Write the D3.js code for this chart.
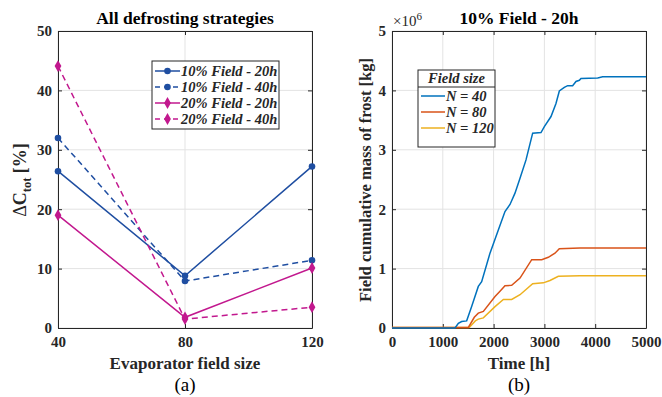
<!DOCTYPE html>
<html>
<head>
<meta charset="utf-8">
<script src="https://cdn.jsdelivr.net/npm/d3@7"></script>
<style>
  body { margin: 0; background: #fff; }
  svg { display: block; font-family: "Liberation Serif", "Times New Roman", serif; }
</style>
</head>
<body>
<div id="chart"></div>
<script>
"use strict";

/* ── Data: panel (a) ── */
const fieldSizes = [40, 80, 120];
const stratNames = ["10% Field - 20h", "10% Field - 40h", "20% Field - 20h", "20% Field - 40h"];
const s10_20 = [26.4, 8.8, 27.2];
const s10_40 = [32.0, 7.9, 11.4];
const s20_20 = [19.0, 1.8, 10.1];
const s20_40 = [44.1, 1.5, 3.5];

/* ── Data: panel (b), mass of frost in 1e6 kg ── */
const sizeNames = ["N = 40", "N = 80", "N = 120"];
const t40 = [0, 1240, 1306, 1371, 1470, 1568, 1699, 1765, 1929, 2093, 2224, 2323, 2421, 2520, 2638, 2769, 2933, 2999, 3130, 3228, 3294, 3392, 3458, 3556, 3622, 3688, 3720, 4049, 4147, 5000];
const m40 = [0, 0, 0.08, 0.11, 0.12, 0.36, 0.70, 0.78, 1.26, 1.65, 1.96, 2.08, 2.27, 2.52, 2.83, 3.28, 3.29, 3.39, 3.56, 3.78, 3.99, 4.05, 4.08, 4.08, 4.15, 4.17, 4.20, 4.21, 4.23, 4.23];
const t80 = [0, 1503, 1620, 1699, 1798, 2028, 2126, 2224, 2356, 2520, 2750, 2947, 3077, 3208, 3293, 3701, 5000];
const m80 = [0.01, 0.01, 0.18, 0.25, 0.28, 0.53, 0.62, 0.71, 0.72, 0.84, 1.15, 1.15, 1.19, 1.26, 1.335, 1.345, 1.345];
const t120 = [0, 1520, 1640, 1699, 1798, 2028, 2192, 2356, 2520, 2769, 2979, 3110, 3274, 3700, 5000];
const m120 = [0.01, 0.01, 0.12, 0.15, 0.17, 0.36, 0.48, 0.48, 0.56, 0.745, 0.76, 0.80, 0.87, 0.88, 0.88];

const textCol = "#262626";
const gridCol = "#e3e3e3";

const svg = d3.select("#chart").append("svg")
  .attr("width", 662).attr("height", 397);

/* ── Generic MATLAB-like axes frame ── */
function drawFrame(g, x, y, xTicks, yTicks, xFmt, yFmt) {
  const [x0, x1] = x.range();
  const [y1, y0] = y.range();

  // grid
  g.append("g").selectAll("line").data(xTicks).join("line")
    .attr("x1", d => x(d)).attr("x2", d => x(d)).attr("y1", y0).attr("y2", y1)
    .attr("stroke", gridCol).attr("stroke-width", 1);
  g.append("g").selectAll("line").data(yTicks).join("line")
    .attr("x1", x0).attr("x2", x1).attr("y1", d => y(d)).attr("y2", d => y(d))
    .attr("stroke", gridCol).attr("stroke-width", 1);

  // axes
  g.append("g").attr("transform", `translate(0,${y1})`)
    .call(d3.axisBottom(x).tickValues(xTicks).tickSizeInner(-4).tickSizeOuter(0).tickPadding(8).tickFormat(xFmt))
    .call(a => styleAxis(a));
  g.append("g").attr("transform", `translate(0,${y0})`)
    .call(d3.axisTop(x).tickValues(xTicks).tickSizeInner(-4).tickSizeOuter(0).tickFormat(""))
    .call(a => styleAxis(a));
  g.append("g").attr("transform", `translate(${x0},0)`)
    .call(d3.axisLeft(y).tickValues(yTicks).tickSizeInner(-4).tickSizeOuter(0).tickPadding(6).tickFormat(yFmt))
    .call(a => styleAxis(a));
  g.append("g").attr("transform", `translate(${x1},0)`)
    .call(d3.axisRight(y).tickValues(yTicks).tickSizeInner(-4).tickSizeOuter(0).tickFormat(""))
    .call(a => styleAxis(a));
}

function styleAxis(a) {
  a.select(".domain").attr("stroke", textCol).attr("stroke-width", 1);
  a.selectAll(".tick line").attr("stroke", textCol);
  a.selectAll(".tick text")
    .attr("fill", textCol)
    .attr("font-size", "15px")
    .attr("font-weight", "bold")
    .attr("font-family", "Liberation Serif, serif");
}

/* ══ Panel (a) ══ */
const xa = d3.scalePoint().domain(fieldSizes).range([58, 312]);
const ya = d3.scaleLinear().domain([0, 50]).range([328, 31]);
const ga = svg.append("g");
drawFrame(ga, xa, ya, fieldSizes, [0, 10, 20, 30, 40, 50], d3.format("d"), d3.format("d"));

const blue = "#1f4ea1";
const magenta = "#c2188e";
const seriesA = [
  { name: stratNames[0], vals: s10_20, color: blue, dash: null, sym: d3.symbolCircle },
  { name: stratNames[1], vals: s10_40, color: blue, dash: "6,4", sym: d3.symbolCircle },
  { name: stratNames[2], vals: s20_20, color: magenta, dash: null, sym: d3.symbolDiamond },
  { name: stratNames[3], vals: s20_40, color: magenta, dash: "6,4", sym: d3.symbolDiamond }
];

const lineA = d3.line().x((d, i) => xa(fieldSizes[i])).y(d => ya(d));
seriesA.forEach(s => {
  ga.append("path").datum(s.vals)
    .attr("d", lineA)
    .attr("fill", "none")
    .attr("stroke", s.color)
    .attr("stroke-width", 1.5)
    .attr("stroke-dasharray", s.dash);
  ga.selectAll(null).data(s.vals).join("path")
    .attr("transform", (d, i) => `translate(${xa(fieldSizes[i])},${ya(d)})`)
    .attr("d", d3.symbol().type(s.sym).size(s.sym === d3.symbolCircle ? 34 : 40))
    .attr("fill", s.color);
});

// legend (a)
const legA = ga.append("g").attr("transform", "translate(152,61)");
legA.append("rect").attr("width", 127).attr("height", 68)
  .attr("fill", "#fff").attr("stroke", textCol).attr("stroke-width", 1);
seriesA.forEach((s, i) => {
  const yy = 10 + i * 16;
  legA.append("line").attr("x1", 3).attr("x2", 28).attr("y1", yy).attr("y2", yy)
    .attr("stroke", s.color).attr("stroke-width", 1.5).attr("stroke-dasharray", s.dash ? "5,4" : null);
  legA.append("path").attr("transform", `translate(15.5,${yy})`)
    .attr("d", d3.symbol().type(s.sym).size(s.sym === d3.symbolCircle ? 34 : 40))
    .attr("fill", s.color);
  legA.append("text").attr("x", 29).attr("y", yy + 5)
    .attr("font-size", "14.5px").attr("font-weight", "bold").attr("font-style", "italic")
    .attr("fill", textCol).text(s.name);
});

// titles & labels (a)
ga.append("text").attr("x", 185).attr("y", 24).attr("text-anchor", "middle")
  .attr("font-size", "17.5px").attr("font-weight", "bold").attr("fill", "#000")
  .text("All defrosting strategies");
ga.append("text").attr("x", 185).attr("y", 369).attr("text-anchor", "middle")
  .attr("font-size", "17px").attr("font-weight", "bold").attr("fill", textCol)
  .text("Evaporator field size");
ga.append("text").attr("x", 185).attr("y", 391).attr("text-anchor", "middle")
  .attr("font-size", "19px").attr("fill", "#000")
  .text("(a)");
const ylabA = ga.append("text")
  .attr("transform", "translate(26,180) rotate(-90)")
  .attr("text-anchor", "middle")
  .attr("font-size", "18px").attr("font-weight", "bold").attr("fill", textCol);
ylabA.append("tspan").attr("font-weight", "normal").text("\u0394");
ylabA.append("tspan").text("C");
ylabA.append("tspan").attr("font-size", "12.5px").attr("dy", 5).text("tot");
ylabA.append("tspan").attr("dy", -5).text(" [%]");

/* ══ Panel (b) ══ */
const xb = d3.scaleLinear().domain([0, 5000]).range([392, 646]);
const yb = d3.scaleLinear().domain([0, 5]).range([328, 31]);
const gb = svg.append("g");
drawFrame(gb, xb, yb, [0, 1000, 2000, 3000, 4000, 5000], [0, 1, 2, 3, 4, 5], d3.format("d"), d3.format("d"));

const seriesB = [
  { name: sizeNames[0], t: t40, m: m40, color: "#0072BD" },
  { name: sizeNames[1], t: t80, m: m80, color: "#D95319" },
  { name: sizeNames[2], t: t120, m: m120, color: "#EDB120" }
];
const lineB = d3.line().x(d => xb(d[0])).y(d => yb(d[1]));
seriesB.slice().reverse().forEach(s => {
  gb.append("path").datum(s.t.map((t, i) => [t, s.m[i]]))
    .attr("d", lineB)
    .attr("fill", "none")
    .attr("stroke", s.color)
    .attr("stroke-width", 1.5);
});

// legend (b)
const legB = gb.append("g").attr("transform", "translate(418,70)");
legB.append("rect").attr("width", 77).attr("height", 77)
  .attr("fill", "#fff").attr("stroke", textCol).attr("stroke-width", 1);
legB.append("line").attr("x1", 0).attr("x2", 77).attr("y1", 17).attr("y2", 17)
  .attr("stroke", textCol).attr("stroke-width", 1);
legB.append("text").attr("x", 38.5).attr("y", 13).attr("text-anchor", "middle")
  .attr("font-size", "14.5px").attr("font-weight", "bold").attr("font-style", "italic")
  .attr("fill", textCol).text("Field size");
seriesB.forEach((s, i) => {
  const yy = 26 + i * 16;
  legB.append("line").attr("x1", 3).attr("x2", 27).attr("y1", yy).attr("y2", yy)
    .attr("stroke", s.color).attr("stroke-width", 1.5);
  legB.append("text").attr("x", 28).attr("y", yy + 5)
    .attr("font-size", "14.5px").attr("font-weight", "bold").attr("font-style", "italic")
    .attr("fill", textCol).text(s.name);
});

// titles & labels (b)
gb.append("text").attr("x", 519).attr("y", 24).attr("text-anchor", "middle")
  .attr("font-size", "17.5px").attr("font-weight", "bold").attr("fill", "#000")
  .text("10% Field - 20h");
const expo = gb.append("text").attr("x", 393).attr("y", 26)
  .attr("font-size", "15px").attr("fill", textCol);
expo.append("tspan").text("\u00d710");
expo.append("tspan").attr("font-size", "11px").attr("dy", -6).text("6");
gb.append("text").attr("x", 519).attr("y", 369).attr("text-anchor", "middle")
  .attr("font-size", "17px").attr("font-weight", "bold").attr("fill", textCol)
  .text("Time [h]");
gb.append("text").attr("x", 519).attr("y", 391).attr("text-anchor", "middle")
  .attr("font-size", "19px").attr("fill", "#000")
  .text("(b)");
gb.append("text")
  .attr("transform", "translate(371,180) rotate(-90)")
  .attr("text-anchor", "middle")
  .attr("font-size", "16.5px").attr("font-weight", "bold").attr("fill", textCol)
  .text("Field cumulative mass of frost [kg]");
</script>
</body>
</html>
